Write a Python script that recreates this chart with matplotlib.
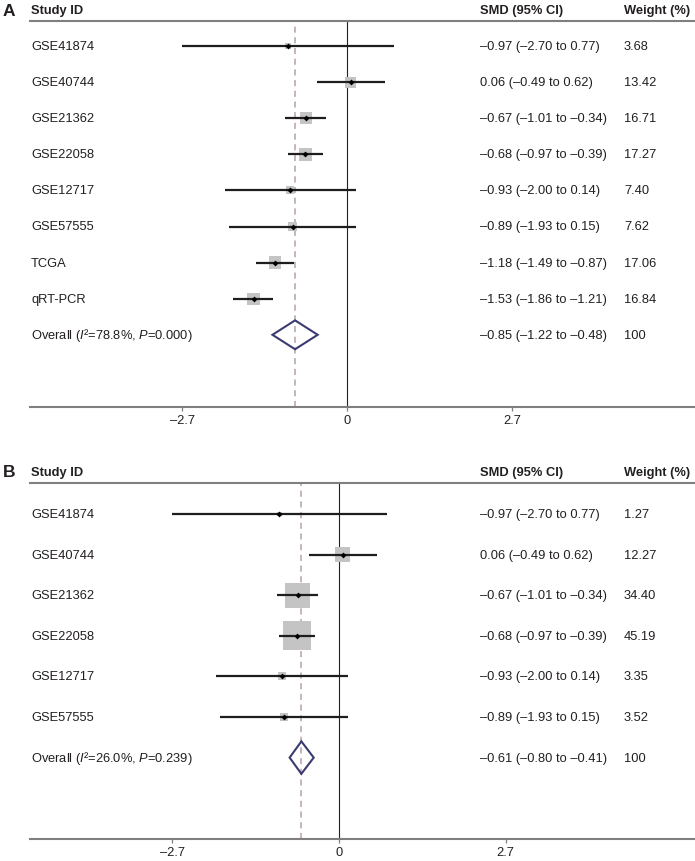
import numpy as np
import matplotlib
matplotlib.use("Agg")
import matplotlib.pyplot as plt
import matplotlib.transforms as mtransforms
from matplotlib.patches import Polygon

################################################################################
# Data
################################################################################
studies_a = ["GSE41874", "GSE40744", "GSE21362", "GSE22058", "GSE12717",
             "GSE57555", "TCGA", "qRT-PCR"]
smd_a = [-0.97, 0.06, -0.67, -0.68, -0.93, -0.89, -1.18, -1.53]
low_a = [-2.70, -0.49, -1.01, -0.97, -2.00, -1.93, -1.49, -1.86]
high_a = [0.77, 0.62, -0.34, -0.39, 0.14, 0.15, -0.87, -1.21]
weight_a = [3.68, 13.42, 16.71, 17.27, 7.40, 7.62, 17.06, 16.84]
overall_a = [-0.85, -1.22, -0.48]
het_a = ["78.8", "0.000"]

studies_b = ["GSE41874", "GSE40744", "GSE21362", "GSE22058", "GSE12717",
             "GSE57555"]
smd_b = [-0.97, 0.06, -0.67, -0.68, -0.93, -0.89]
low_b = [-2.70, -0.49, -1.01, -0.97, -2.00, -1.93]
high_b = [0.77, 0.62, -0.34, -0.39, 0.14, 0.15]
weight_b = [1.27, 12.27, 34.40, 45.19, 3.35, 3.52]
overall_b = [-0.61, -0.80, -0.41]
het_b = ["26.0", "0.239"]

ticks = [-2.7, 0, 2.7]

################################################################################
# Style
################################################################################
plt.rcParams['font.family'] = ['Liberation Sans', 'DejaVu Sans']
plt.rcParams['mathtext.fontset'] = 'custom'
plt.rcParams['mathtext.rm'] = 'Liberation Sans'
plt.rcParams['mathtext.it'] = 'Liberation Sans:italic'
plt.rcParams['mathtext.bf'] = 'Liberation Sans:bold'

W, H = 695, 862
TXT = '#231f20'
GREY_LINE = '#7f7f7f'
BOX = '#c4c4c4'
DIAMOND = '#3b3b72'
DASH = '#b5a2aa'
FS = 9.3


def fmt(v):
    # en dash for negative numbers, as in the figure
    s = "{:.2f}".format(v)
    return s.replace("-", "\u2013")


################################################################################
# One forest panel
################################################################################
def forest(fig, letter, top, bottom, row0, step, zero_px, unit_px,
           names, est, lo, hi, wts, overall, het, box_k):
    ax = fig.add_axes([30 / W, 1 - bottom / H, 665 / W, (bottom - top) / H])
    n = len(names)
    rows = np.arange(n + 1)
    ax.set_ylim((bottom - row0) / step, (top - row0) / step)
    ax.set_xlim((30 - zero_px) / unit_px, (695 - zero_px) / unit_px)

    for s in ['left', 'right']:
        ax.spines[s].set_visible(False)
    for s in ['top', 'bottom']:
        ax.spines[s].set_color(GREY_LINE)
        ax.spines[s].set_linewidth(1.5)
    ax.set_yticks([])
    ax.set_xticks(ticks)
    ax.set_xticklabels([("{:g}".format(t)).replace("-", "\u2013") for t in ticks])
    ax.tick_params(axis='x', length=3, width=0.9, color=GREY_LINE,
                   labelsize=FS, labelcolor=TXT, pad=2)

    # reference lines
    ax.axvline(0, color='#222222', lw=0.8, zorder=1)
    ax.axvline(overall[0], color=DASH, lw=1.1, ls=(0, (4, 3)), zorder=1)

    # study boxes and CIs
    sizes = (box_k * 0.72) ** 2 * np.array(wts)
    ax.scatter(est, rows[:n], s=sizes, marker='s', color=BOX, lw=0, zorder=2)
    ax.hlines(rows[:n], lo, hi, color='#1e1e1e', lw=1.6, zorder=3)
    ax.scatter(est, rows[:n], s=9, marker='D', color='black', lw=0, zorder=4)

    # pooled diamond
    yo = rows[n]
    hh = 0.40
    dia = Polygon([[overall[1], yo], [overall[0], yo - hh], [overall[2], yo],
                   [overall[0], yo + hh]], closed=True, fill=False,
                  edgecolor=DIAMOND, lw=1.5, zorder=4)
    ax.add_patch(dia)

    # text columns
    tr = mtransforms.blended_transform_factory(fig.transFigure, ax.transData)
    for i in range(n):
        ax.text(31 / W, rows[i], names[i], transform=tr, va='center',
                fontsize=FS, color=TXT)
        ax.text(480 / W, rows[i], "{} ({} to {})".format(fmt(est[i]), fmt(lo[i]), fmt(hi[i])),
                transform=tr, va='center', fontsize=FS, color=TXT)
        ax.text(624 / W, rows[i], "{:.2f}".format(wts[i]), transform=tr,
                va='center', fontsize=FS, color=TXT)
    ax.text(31 / W, yo, r"Overall ($\mathit{I}$" + "\u00b2=" + het[0] + r"%, $\mathit{P}$=" + het[1] + ")",
            transform=tr, va='center', fontsize=FS, color=TXT)
    ax.text(480 / W, yo, "{} ({} to {})".format(fmt(overall[0]), fmt(overall[1]), fmt(overall[2])),
            transform=tr, va='center', fontsize=FS, color=TXT)
    ax.text(624 / W, yo, "100", transform=tr, va='center', fontsize=FS, color=TXT)

    # headers
    hy = 1 - (top - 11) / H
    fig.text(3 / W, hy, letter, fontsize=12.5, fontweight='bold', va='center', color=TXT)
    fig.text(31 / W, hy, "Study ID", fontsize=FS, fontweight='bold', va='center', color=TXT)
    fig.text(480 / W, hy, "SMD (95% CI)", fontsize=FS, fontweight='bold', va='center', color=TXT)
    fig.text(624 / W, hy, "Weight (%)", fontsize=FS, fontweight='bold', va='center', color=TXT)
    return ax


################################################################################
fig = plt.figure(figsize=(W / 100, H / 100), dpi=100)
forest(fig, "A", 22, 408, 47, 36.1, 347, 61.1,
       studies_a, smd_a, low_a, high_a, weight_a, overall_a, het_a, 3.0)
forest(fig, "B", 484, 840, 515, 40.6, 339, 61.7,
       studies_b, smd_b, low_b, high_b, weight_b, overall_b, het_b, 4.3)
fig.savefig("out.png", dpi=100)
